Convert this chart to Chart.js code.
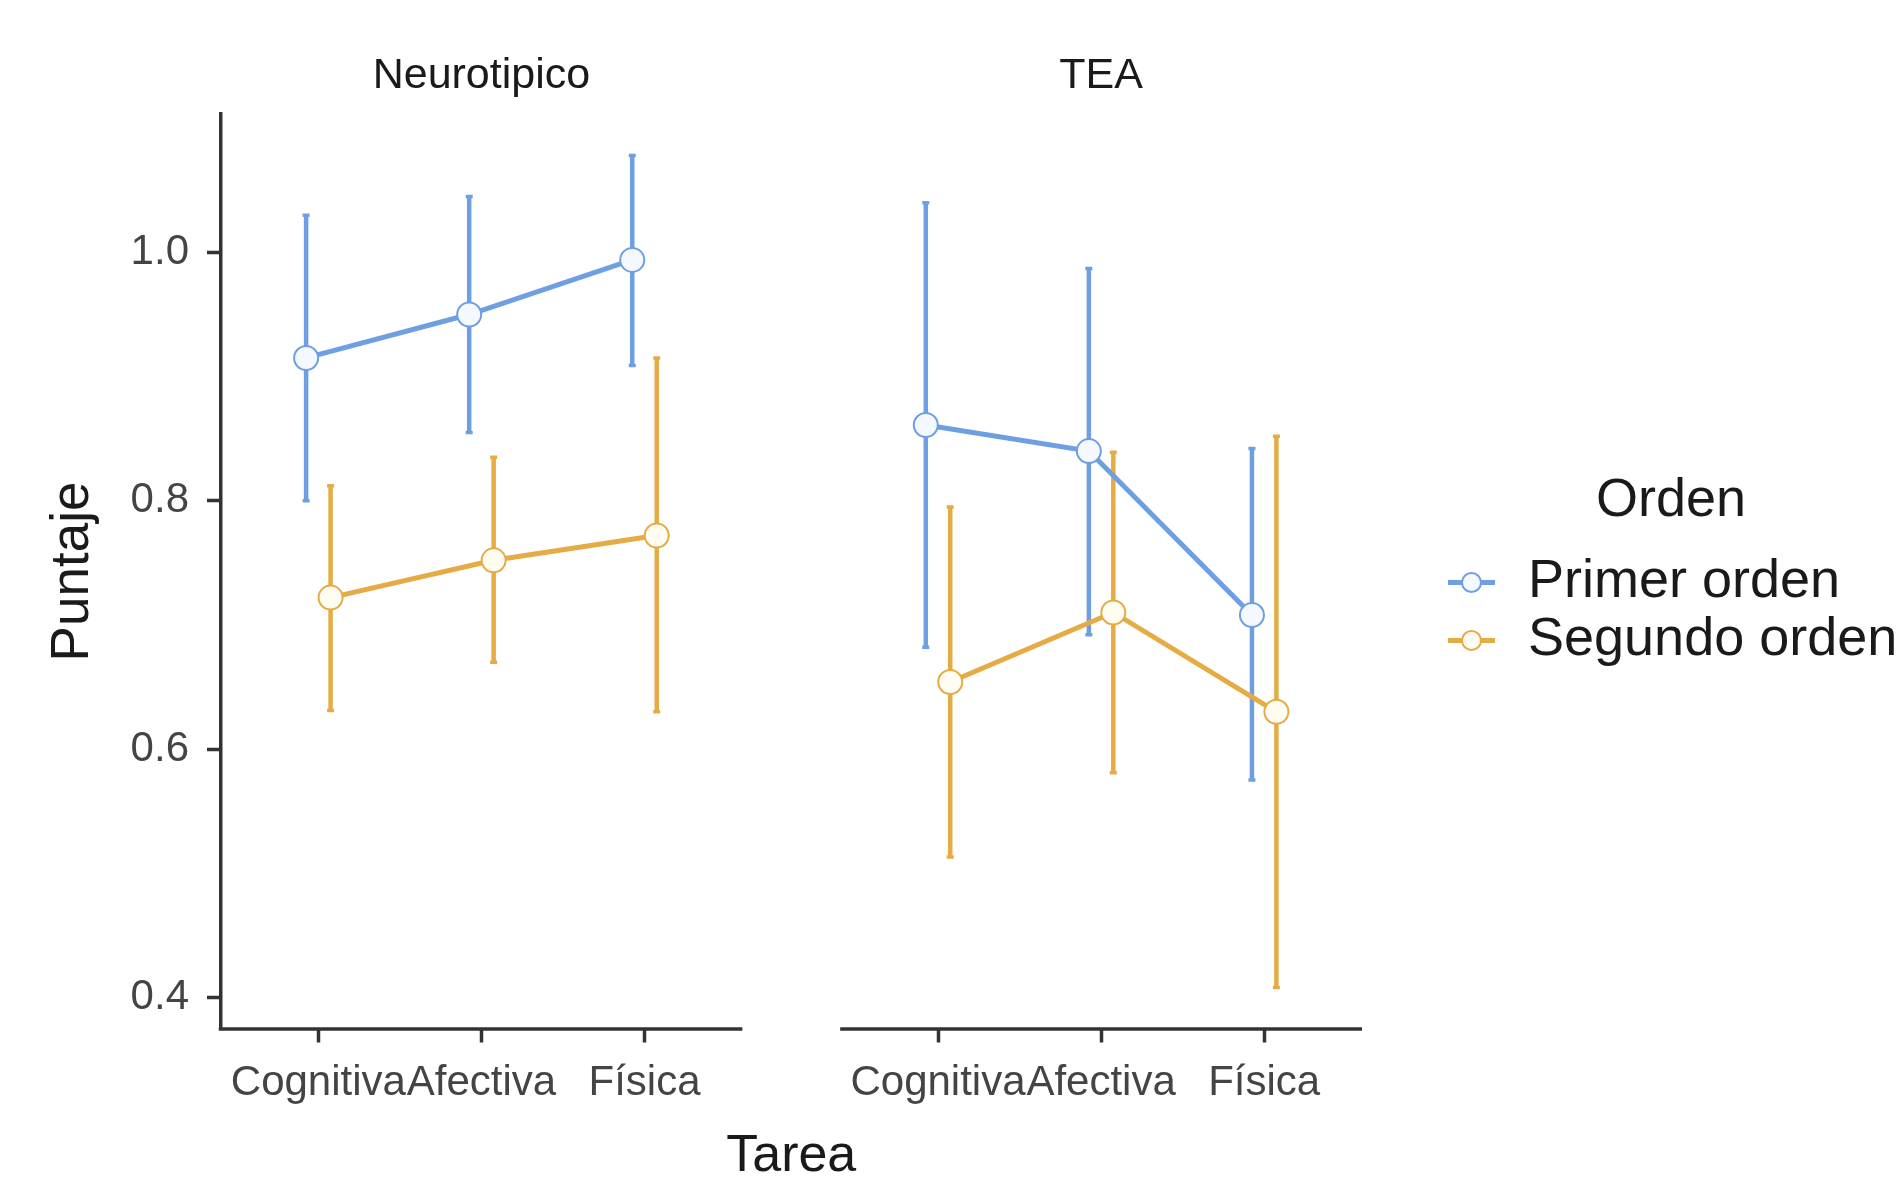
<!DOCTYPE html>
<html>
<head>
<meta charset="utf-8">
<script src="https://cdn.jsdelivr.net/npm/chart.js@4/dist/chart.umd.min.js"></script>
<style>
  html, body { margin: 0; padding: 0; background: #ffffff; }
  #wrap { width: 1901px; height: 1177px; }
</style>
</head>
<body>
<div id="wrap"><canvas id="grafico" width="1901" height="1177"></canvas></div>
<script>
// ---- Datos ----
const tareas  = ['Cognitiva', 'Afectiva', 'Física'];
const grupos  = ['Neurotipico', 'TEA'];
const ordenes = ['Primer orden', 'Segundo orden'];
const yTicks  = [0.4, 0.6, 0.8, 1.0];

// Neurotipico
const neuroPrimerMedia  = [0.915, 0.950, 0.994];
const neuroPrimerInf    = [0.800, 0.855, 0.909];
const neuroPrimerSup    = [1.030, 1.045, 1.078];
const neuroSegundoMedia = [0.722, 0.752, 0.772];
const neuroSegundoInf   = [0.631, 0.670, 0.630];
const neuroSegundoSup   = [0.812, 0.835, 0.915];

// TEA
const teaPrimerMedia  = [0.861, 0.840, 0.708];
const teaPrimerInf    = [0.682, 0.692, 0.575];
const teaPrimerSup    = [1.040, 0.987, 0.842];
const teaSegundoMedia = [0.654, 0.710, 0.630];
const teaSegundoInf   = [0.513, 0.581, 0.408];
const teaSegundoSup   = [0.795, 0.839, 0.852];

// ---- Estilo y disposición ----
const colores   = ['#6E9FE3', '#E5AC45'];
const rellenos  = ['#F5F9FF', '#FFFCF2'];
const ejeColor  = '#333333';
const FUENTE    = "'Liberation Sans', Arial, Helvetica, sans-serif";
const EXPAND    = 0.6;    // margen discreto a cada lado del panel
const PANEL     = tareas.length - 1 + 2 * EXPAND;  // ancho de un panel en unidades
const SEP       = 0.6;    // separación entre paneles
const DODGE     = 0.075;  // desplazamiento de cada orden
const CAP       = 3.5;

const series = [
  { panel: 0, orden: 0, media: neuroPrimerMedia,  inf: neuroPrimerInf,  sup: neuroPrimerSup },
  { panel: 0, orden: 1, media: neuroSegundoMedia, inf: neuroSegundoInf, sup: neuroSegundoSup },
  { panel: 1, orden: 0, media: teaPrimerMedia,    inf: teaPrimerInf,    sup: teaPrimerSup },
  { panel: 1, orden: 1, media: teaSegundoMedia,   inf: teaSegundoInf,   sup: teaSegundoSup }
];

const inicioPanel = p => p * (PANEL + SEP);
const posCategoria = (p, i) => inicioPanel(p) + EXPAND + i;
const posX = (s, i) => posCategoria(s.panel, i) + (s.orden === 0 ? -DODGE : DODGE);

// rango del eje y: extremos de los intervalos con 5 % de margen
const todos = series.flatMap(s => s.inf.concat(s.sup));
const yMinDato = Math.min(...todos), yMaxDato = Math.max(...todos);
const yPad = (yMaxDato - yMinDato) * 0.05;

const xTicks = [0, 1].flatMap(p => tareas.map((t, i) => posCategoria(p, i)));

const datasets = [];
series.forEach(s => {
  const pts = s.media.map((m, i) => ({ x: posX(s, i), y: m }));
  datasets.push({
    label: grupos[s.panel] + ' - ' + ordenes[s.orden],
    data: pts,
    borderColor: colores[s.orden],
    borderWidth: 5,
    pointRadius: 0,
    pointHoverRadius: 0,
    fill: false,
    tension: 0,
    order: 2
  });
});
series.forEach(s => {
  const pts = s.media.map((m, i) => ({ x: posX(s, i), y: m }));
  datasets.push({
    label: grupos[s.panel] + ' - ' + ordenes[s.orden] + ' (puntos)',
    data: pts,
    showLine: false,
    pointRadius: 12,
    pointHoverRadius: 12,
    pointBorderWidth: 2,
    pointBorderColor: colores[s.orden],
    pointBackgroundColor: rellenos[s.orden],
    order: 1
  });
});

// barras de error (debajo de líneas y puntos)
const barrasError = {
  id: 'barrasError',
  beforeDatasetsDraw(chart) {
    const { ctx, scales: { x, y } } = chart;
    ctx.save();
    ctx.lineCap = 'butt';
    series.forEach(s => {
      ctx.strokeStyle = colores[s.orden];
      s.media.forEach((m, i) => {
        const px = x.getPixelForValue(posX(s, i));
        const yLo = y.getPixelForValue(s.inf[i]);
        const yHi = y.getPixelForValue(s.sup[i]);
        ctx.lineWidth = 4.5;
        ctx.beginPath();
        ctx.moveTo(px, yLo);
        ctx.lineTo(px, yHi);
        ctx.stroke();
        ctx.lineWidth = 3.5;
        ctx.beginPath();
        ctx.moveTo(px - CAP, yLo); ctx.lineTo(px + CAP, yLo);
        ctx.moveTo(px - CAP, yHi); ctx.lineTo(px + CAP, yHi);
        ctx.stroke();
      });
    });
    ctx.restore();
  }
};

// ejes x por panel y etiquetas de panel
const paneles = {
  id: 'paneles',
  beforeDatasetsDraw(chart) {
    const { ctx, chartArea, scales: { x } } = chart;
    ctx.save();
    ctx.strokeStyle = ejeColor;
    ctx.lineWidth = 3.5;
    grupos.forEach((g, p) => {
      const x0 = x.getPixelForValue(inicioPanel(p));
      const x1 = x.getPixelForValue(inicioPanel(p) + PANEL);
      ctx.beginPath();
      ctx.moveTo(x0 - (p === 0 ? 1.75 : 0), chartArea.bottom);
      ctx.lineTo(x1, chartArea.bottom);
      ctx.stroke();
    });
    ctx.fillStyle = '#1a1a1a';
    ctx.font = '43px ' + FUENTE;
    ctx.textAlign = 'center';
    ctx.textBaseline = 'middle';
    grupos.forEach((g, p) => {
      const cx = x.getPixelForValue(inicioPanel(p) + PANEL / 2);
      ctx.fillText(g, cx, chartArea.top - 38);
    });
    ctx.restore();
  }
};

// leyenda "Orden"
const leyenda = {
  id: 'leyendaOrden',
  afterDraw(chart) {
    const { ctx, chartArea } = chart;
    const cy = (chartArea.top + chartArea.bottom) / 2;
    const x0 = chartArea.right;
    ctx.save();
    ctx.fillStyle = '#1a1a1a';
    ctx.textBaseline = 'middle';
    ctx.font = '54px ' + FUENTE;
    ctx.textAlign = 'center';
    ctx.fillText('Orden', x0 + 309, cy - 70);
    ctx.textAlign = 'left';
    ordenes.forEach((o, k) => {
      const yy = cy + 11 + k * 58;
      ctx.strokeStyle = colores[k];
      ctx.lineWidth = 5;
      ctx.beginPath();
      ctx.moveTo(x0 + 86, yy);
      ctx.lineTo(x0 + 133, yy);
      ctx.stroke();
      ctx.beginPath();
      ctx.arc(x0 + 109.5, yy, 9.5, 0, Math.PI * 2);
      ctx.fillStyle = rellenos[k];
      ctx.fill();
      ctx.lineWidth = 2;
      ctx.stroke();
      ctx.fillStyle = '#1a1a1a';
      ctx.fillText(o, x0 + 166, yy);
    });
    ctx.restore();
  }
};

Chart.defaults.font.family = FUENTE;

new Chart(document.getElementById('grafico'), {
  type: 'line',
  data: { datasets },
  plugins: [barrasError, paneles, leyenda],
  options: {
    responsive: false,
    devicePixelRatio: 1,
    animation: false,
    events: [],
    layout: { padding: { top: 114, right: 539, bottom: 0, left: 0 } },
    plugins: {
      legend: { display: false },
      tooltip: { enabled: false },
      title: { display: false }
    },
    scales: {
      x: {
        type: 'linear',
        min: 0,
        max: inicioPanel(1) + PANEL,
        bounds: 'data',
        afterFit(scale) { scale.height = 148; },
        afterBuildTicks(scale) { scale.ticks = xTicks.map(v => ({ value: v })); },
        ticks: {
          autoSkip: false,
          maxRotation: 0,
          minRotation: 0,
          padding: 16,
          color: '#444444',
          font: { size: 42 },
          callback: (v, i) => tareas[i % tareas.length]
        },
        grid: {
          drawOnChartArea: false,
          drawTicks: true,
          tickLength: 13.5,
          tickWidth: 3.5,
          tickColor: ejeColor
        },
        border: { display: false },
        title: {
          display: true,
          text: 'Tarea',
          color: '#1a1a1a',
          font: { size: 52, lineHeight: 0.8 },
          padding: { top: 0, bottom: 0 }
        }
      },
      y: {
        type: 'linear',
        min: yMinDato - yPad,
        max: yMaxDato + yPad,
        bounds: 'data',
        afterFit(scale) { scale.width = 220.5; },
        afterBuildTicks(scale) { scale.ticks = yTicks.map(v => ({ value: v })); },
        ticks: {
          padding: 18,
          color: '#444444',
          font: { size: 42 },
          callback: v => v.toFixed(1)
        },
        grid: {
          drawOnChartArea: false,
          drawTicks: true,
          tickLength: 13.5,
          tickWidth: 3.5,
          tickColor: ejeColor
        },
        border: { display: true, color: ejeColor, width: 3.5 },
        title: {
          display: true,
          text: 'Puntaje',
          color: '#1a1a1a',
          font: { size: 53, lineHeight: 1 },
          padding: { top: 47, bottom: 0 }
        }
      }
    }
  }
});
</script>
</body>
</html>
